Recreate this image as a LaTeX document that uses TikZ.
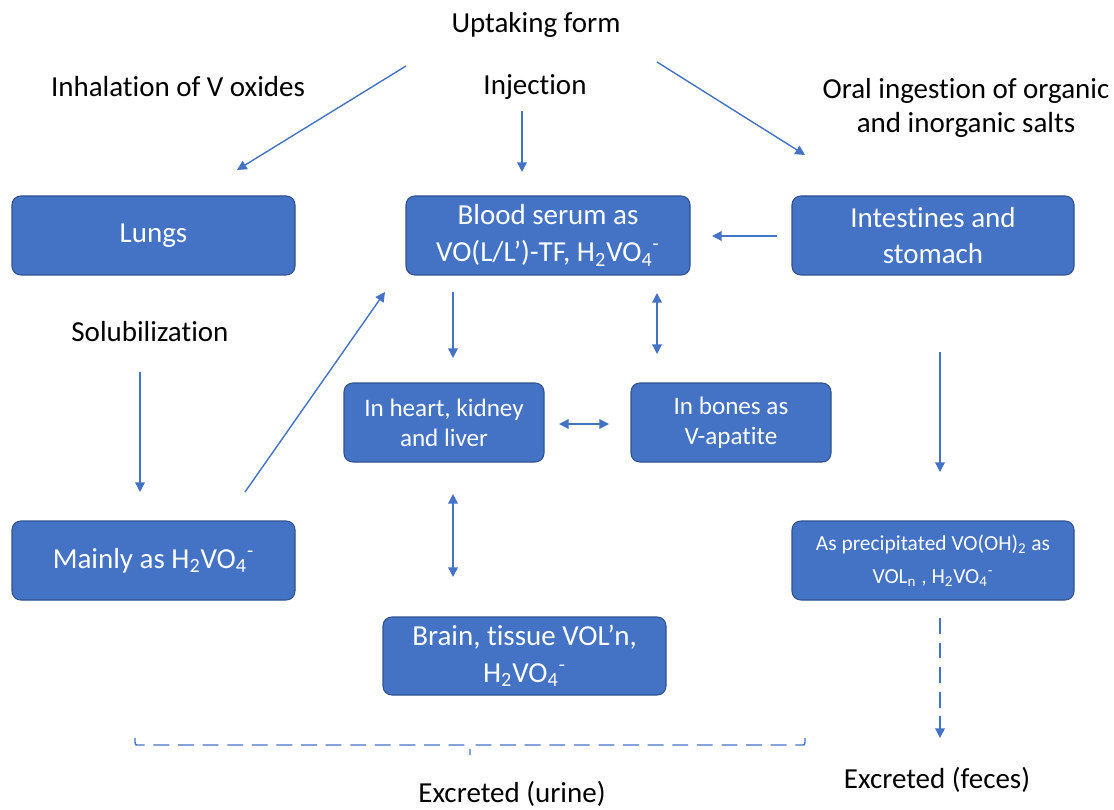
\documentclass[tikz,border=0pt]{standalone}
\usepackage{fontspec}
\setmainfont{Carlito}[Ligatures=NoCommon]
\usetikzlibrary{arrows.meta}
\definecolor{boxblue}{HTML}{4472C4}
\definecolor{boxedge}{HTML}{2F528F}
\definecolor{arrblue}{HTML}{4472C4}
\newcommand{\hvo}{H\textsubscript{2}VO\textsubscript{4}\textsuperscript{-}}
\begin{document}
\begin{tikzpicture}[x=0.02cm,y=-0.02cm,
  bx/.style={draw=boxedge,fill=boxblue,line width=0.6pt,rounded corners=5pt,text=white,align=center,inner sep=0pt},
  lbl/.style={align=center,font=\fontsize{16.5}{20}\selectfont},
  arr/.style={draw=arrblue,line width=0.8pt,-{Triangle[length=5.5pt,width=5.5pt]}},
  darr/.style={draw=arrblue,line width=0.8pt,{Triangle[length=5.5pt,width=5.5pt]}-{Triangle[length=5.5pt,width=5.5pt]}}]
\useasboundingbox (0,0) rectangle (1114,810);
% boxes
\node[bx,minimum width=283*0.02cm,minimum height=79*0.02cm,font=\fontsize{16.5}{20}\selectfont] (lungs) at (153.5,235.5) {Lungs};
\node[bx,minimum width=284*0.02cm,minimum height=79*0.02cm,font=\fontsize{16.5}{21}\selectfont] (blood) at (548,235.5) {Blood serum as\\VO(L/L’)-TF, \hvo};
\node[bx,minimum width=282*0.02cm,minimum height=79*0.02cm,font=\fontsize{16.5}{21}\selectfont] (intest) at (933,235.5) {Intestines and\\stomach};
\node[bx,minimum width=200*0.02cm,minimum height=79*0.02cm,font=\fontsize{14.3}{17}\selectfont] (heart) at (444,422.5) {In heart, kidney\\and liver};
\node[bx,minimum width=200*0.02cm,minimum height=79*0.02cm,font=\fontsize{14.3}{17}\selectfont] (bones) at (731,422.5) {In bones as\\V-apatite};
\node[bx,minimum width=283*0.02cm,minimum height=79*0.02cm,font=\fontsize{16.5}{20}\selectfont] (mainly) at (153.5,560.5) {Mainly as \hvo};
\node[bx,minimum width=283*0.02cm,minimum height=78*0.02cm,font=\fontsize{16.5}{21}\selectfont] (brain) at (524.5,656) {Brain, tissue VOL’n,\\\hvo};
\node[bx,minimum width=282*0.02cm,minimum height=79*0.02cm,font=\fontsize{12.2}{18.7}\selectfont] (precip) at (933,560.5) {As precipitated VO(OH)\textsubscript{2} as\\VOL\textsubscript{n} , \hvo};
% labels
\node[lbl] (up) at (536,25) {Uptaking form};
\node[lbl] (inh) at (178,87) {Inhalation of V oxides};
\node[lbl] (inj) at (535,87) {Injection};
\node[lbl,font=\fontsize{16.5}{19.8}\selectfont] (oral) at (966,108) {Oral ingestion of organic\\and inorganic salts};
\node[lbl] (sol) at (150,332) {Solubilization};
\node[lbl] (urine) at (512,794) {Excreted (urine)};
\node[lbl] (feces) at (937,780) {Excreted (feces)};
% coordinates
\coordinate (a1s) at (406,66); \coordinate (a1e) at (237,170);
\coordinate (a2s) at (522,111); \coordinate (a2e) at (522,172);
\coordinate (a3s) at (657,62); \coordinate (a3e) at (805,155);
\coordinate (a4s) at (777,236); \coordinate (a4e) at (712,236);
\coordinate (a5s) at (140,372); \coordinate (a5e) at (140,492);
\coordinate (a6s) at (245,492); \coordinate (a6e) at (385,292);
\coordinate (a7s) at (453,292); \coordinate (a7e) at (453,358);
\coordinate (a8s) at (657,293); \coordinate (a8e) at (657,354);
\coordinate (a9s) at (559,424); \coordinate (a9e) at (609,424);
\coordinate (a10s) at (453,494); \coordinate (a10e) at (453,577);
\coordinate (a11s) at (940,352); \coordinate (a11e) at (940,472);
\coordinate (a12s) at (940,618); \coordinate (a12e) at (940,738);
\coordinate (bl) at (135,738); \coordinate (br) at (805,738); \coordinate (bm) at (470,745);
% arrows
\draw[arr] (a1s) -- (a1e);
\draw[arr] (a2s) -- (a2e);
\draw[arr] (a3s) -- (a3e);
\draw[arr] (a4s) -- (a4e);
\draw[arr] (a5s) -- (a5e);
\draw[arr] (a6s) -- (a6e);
\draw[arr] (a7s) -- (a7e);
\draw[darr] (a8s) -- (a8e);
\draw[darr] (a9s) -- (a9e);
\draw[darr] (a10s) -- (a10e);
\draw[arr] (a11s) -- (a11e);
\draw[arr,dash pattern=on 9pt off 5pt] (a12s) -- (a12e);
% brace
\draw[arrblue,line width=0.8pt,dash pattern=on 9pt off 5pt] (bl) -- (135,742) .. controls (135,745) .. (140,745) -- (465,745) .. controls (470,745) .. (470,748) -- (470,755);
\draw[arrblue,line width=0.8pt,dash pattern=on 9pt off 5pt] (br) -- (805,742) .. controls (805,745) .. (800,745) -- (475,745) .. controls (470,745) .. (470,748);
\end{tikzpicture}
\end{document}
